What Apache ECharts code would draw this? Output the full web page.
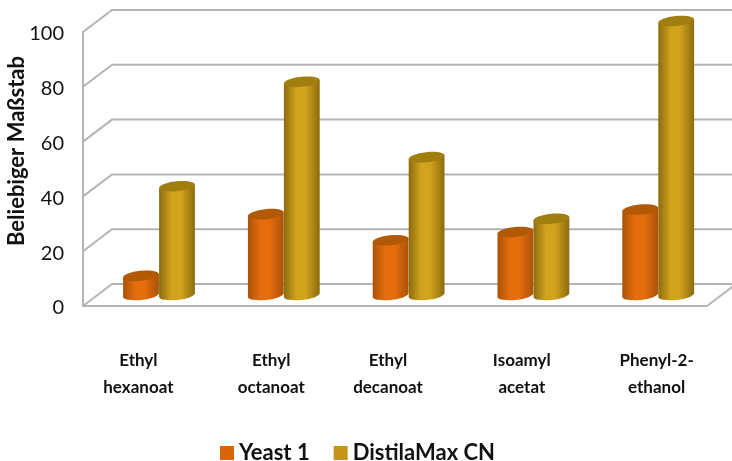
<!DOCTYPE html>
<html>
<head>
<meta charset="utf-8">
<script src="https://cdn.jsdelivr.net/npm/echarts@6/dist/echarts.min.js"></script>
<style>html,body{margin:0;padding:0;background:#fff}#c{width:732px;height:461px}</style>
</head>
<body>
<div id="c"></div>
<script>
const categories = ['Ethyl\nhexanoat', 'Ethyl\noctanoat', 'Ethyl\ndecanoat', 'Isoamyl\nacetat', 'Phenyl-2-\nethanol'];
const yeast1 = [7, 29.5, 20, 23, 31.2];
const distilaMax = [39.7, 77.8, 50.3, 27.8, 100];
const ticks = [0, 20, 40, 60, 80, 100];
const labelShift = [-7, 1, -7, 2, 12];

const FONT = 'Lato';
const DEPTH_X = 29, DEPTH_Y = 22, BAR_W = 36, RY = 5, TILT = 6 * Math.PI / 180;
const GRAY = '#b4b4b4';

function wallItem(params, api) {
  const p = api.coord([0, api.value(1)]);
  const cs = params.coordSys;
  const x0 = cs.x, x1 = cs.x + cs.width, y = p[1];
  const pts = [[x0, y], [x0 + DEPTH_X, y - DEPTH_Y], [x1 + DEPTH_X, y - DEPTH_Y]];
  const children = [{ type: 'polyline', shape: { points: pts }, style: { stroke: GRAY, lineWidth: 2, fill: null } }];
  if (api.value(1) === 0) {
    children.push({ type: 'line', shape: { x1: x1, y1: y, x2: x1 + DEPTH_X, y2: y - DEPTH_Y }, style: { stroke: GRAY, lineWidth: 2 } });
  }
  return { type: 'group', children };
}

function cylinder(side, edge, mid, top) {
  return function (params, api) {
    const c = api.coord([api.value(0), api.value(1)]);
    const b = api.coord([api.value(0), 0]);
    const cx = c[0] + side * BAR_W / 2 + DEPTH_X / 2 - 0.9;
    const yT = c[1] - DEPTH_Y / 2;
    const yB = b[1] - DEPTH_Y / 2;
    const rx = BAR_W / 2, dx = rx * Math.cos(TILT), dy = rx * Math.sin(TILT);
    const deg = -TILT * 180 / Math.PI;
    const d = `M${cx - dx} ${yT + dy}L${cx - dx} ${yB + dy}A${rx} ${RY} ${deg} 0 0 ${cx + dx} ${yB - dy}L${cx + dx} ${yT - dy}Z`;
    const grad = {
      type: 'linear', x: 0, y: 0, x2: 1, y2: 0,
      colorStops: [{ offset: 0, color: edge }, { offset: 0.35, color: mid }, { offset: 0.6, color: mid }, { offset: 1, color: edge }]
    };
    return {
      type: 'group',
      children: [
        { type: 'path', shape: { pathData: d }, style: { fill: grad } },
        { type: 'ellipse', shape: { cx: 0, cy: 0, rx: rx, ry: RY }, x: cx, y: yT, rotation: TILT, style: { fill: top } }
      ]
    };
  };
}

const rich = {};
labelShift.forEach((s, i) => {
  rich['c' + i] = {
    fontFamily: FONT, fontWeight: 'bold', fontSize: 17, color: '#111', lineHeight: 27,
    padding: s < 0 ? [0, -2 * s, 0, 0] : [0, 0, 0, 2 * s]
  };
});

const chart = echarts.init(document.getElementById('c'), null, { renderer: 'canvas' });
chart.setOption({
  animation: false,
  backgroundColor: '#fff',
  textStyle: { fontFamily: FONT },
  grid: { left: 83, right: 25, top: 32, bottom: 155, containLabel: false, outerBoundsMode: 'none' },
  legend: {
    left: 220, top: 442, padding: 0, itemWidth: 14, itemHeight: 14, itemGap: 24,
    data: [{ name: 'Yeast 1', icon: 'rect' }, { name: 'DistilaMax CN', icon: 'rect' }],
    textStyle: { fontFamily: FONT, fontWeight: 'bold', fontSize: 22, color: '#111' }
  },
  xAxis: {
    type: 'category', data: categories,
    axisLine: { show: true, lineStyle: { color: GRAY, width: 2 } },
    axisTick: { show: false },
    splitLine: { show: false },
    axisLabel: {
      interval: 0, margin: 41,
      formatter: (v, i) => v.split('\n').map(t => `{c${i}|${t}}`).join('\n'),
      rich
    }
  },
  yAxis: {
    type: 'value', min: 0, max: 100, interval: 20,
    name: 'Beliebiger Maßstab', nameLocation: 'middle', nameRotate: 90, nameGap: 55, nameMoveOverlap: false,
    nameTextStyle: { fontFamily: FONT, fontWeight: 'bold', fontSize: 22, color: '#111', padding: [0, 0, 0, 36] },
    axisLine: { show: true, onZero: false, lineStyle: { color: GRAY, width: 2 } },
    axisTick: { show: false },
    splitLine: { show: false },
    axisLabel: {
      margin: 19,
      formatter: '{t|{value}}',
      rich: { t: { fontFamily: FONT, fontSize: 20, color: '#111', padding: [4, 0, 0, 0] } }
    }
  },
  series: [
    {
      name: 'wall', type: 'custom', clip: false, silent: true, z: 1,
      encode: { x: 0, y: 1 },
      data: ticks.map(t => [0, t]),
      renderItem: wallItem
    },
    {
      name: 'Yeast 1', type: 'custom', clip: false, z: 3,
      itemStyle: { color: '#d96509' },
      encode: { x: 0, y: 1 },
      data: yeast1.map((v, i) => [i, v]),
      renderItem: cylinder(-1, '#a9530a', '#e56d0b', '#b25906')
    },
    {
      name: 'DistilaMax CN', type: 'custom', clip: false, z: 4,
      itemStyle: { color: '#c59519' },
      encode: { x: 0, y: 1 },
      data: distilaMax.map((v, i) => [i, v]),
      renderItem: cylinder(1, '#8b6b0f', '#d2a31c', '#a07e10')
    }
  ]
});
</script>
</body>
</html>
